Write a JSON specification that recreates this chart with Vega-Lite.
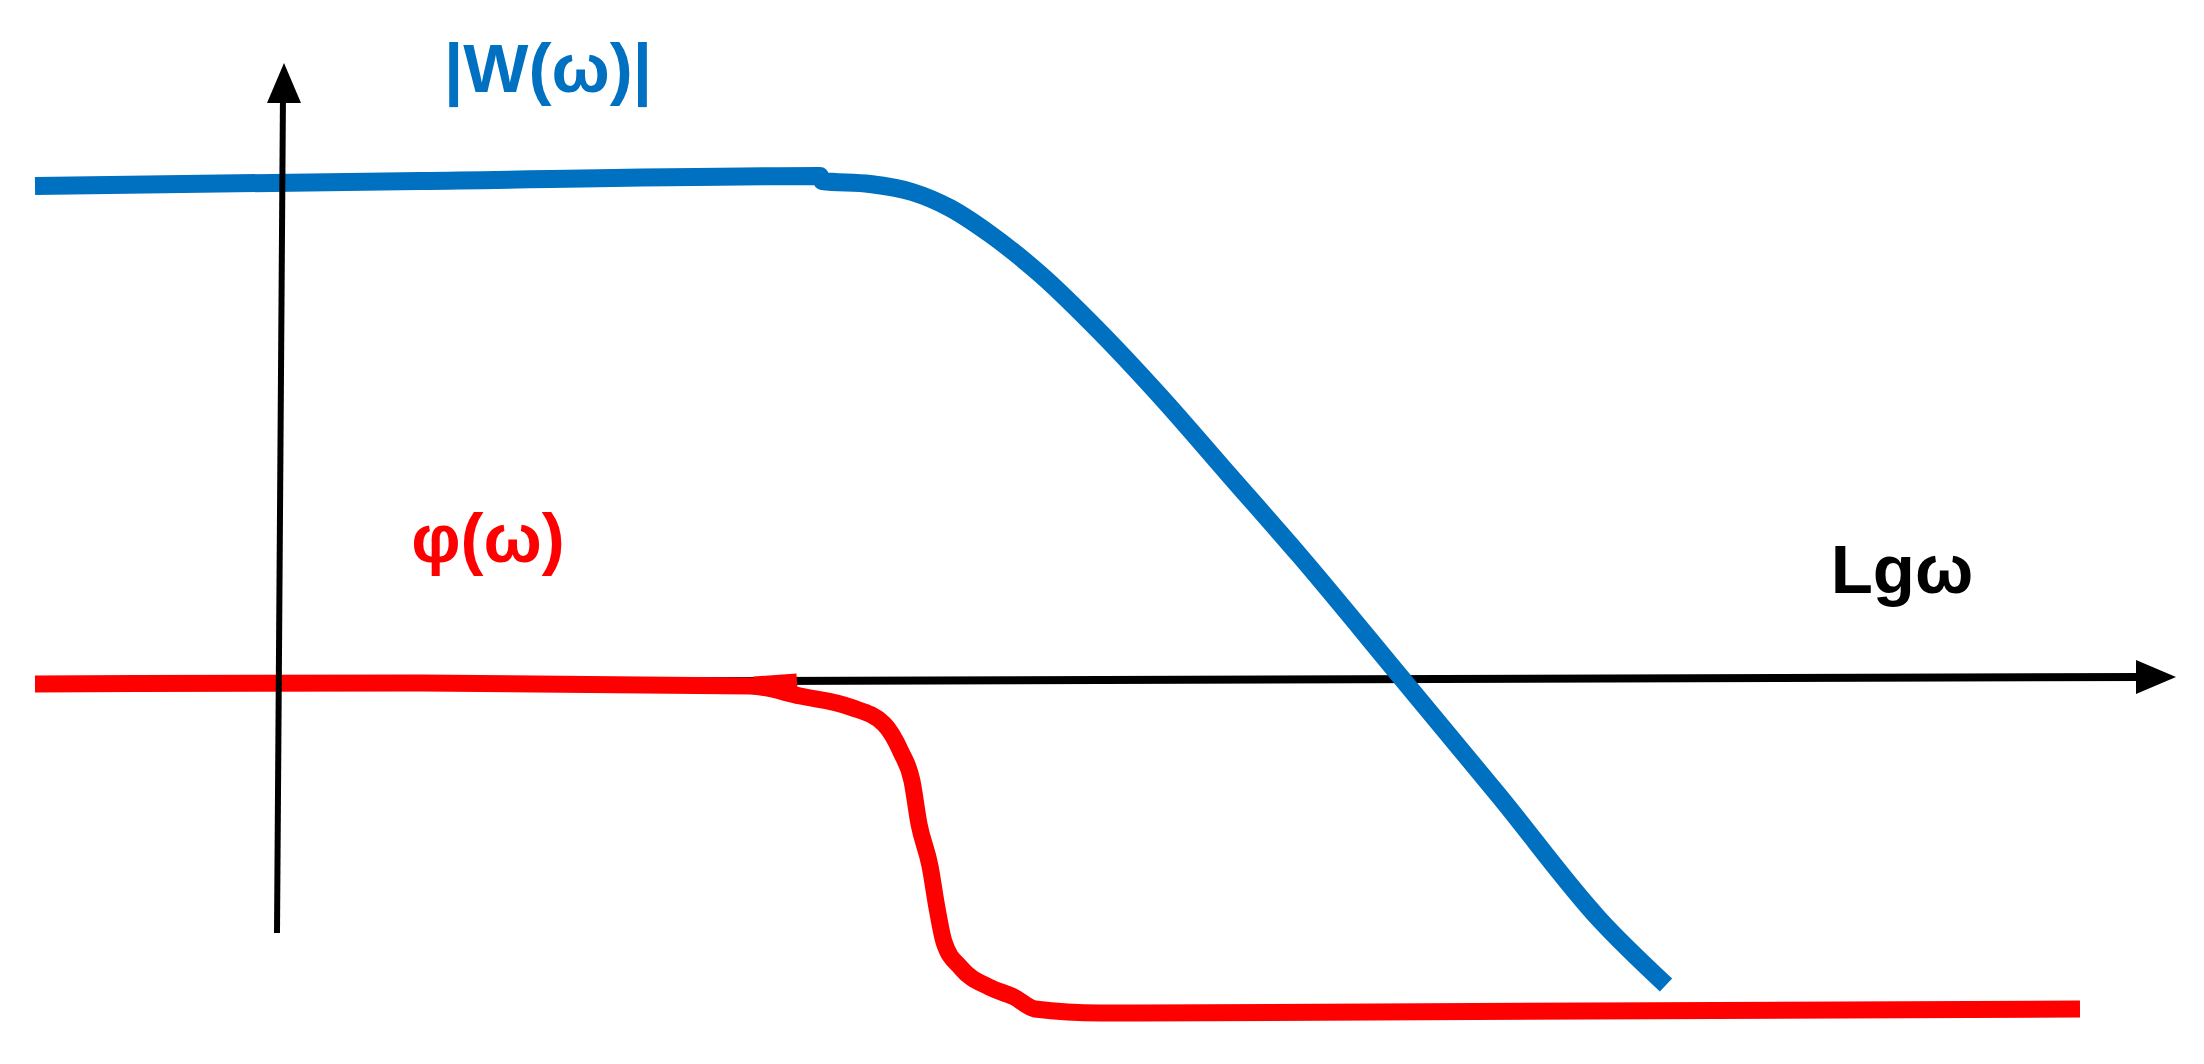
{
  "$schema": "https://vega.github.io/schema/vega-lite/v6.json",
  "width": 2204,
  "height": 1064,
  "autosize": {"type": "fit", "contains": "padding"},
  "padding": 0,
  "background": "white",
  "config": {"view": {"stroke": null}},
  "datasets": {
    "axisH": [
      {"x": -2.47, "y": -0.01, "i": 0},
      {"x": 18.6, "y": 0.05, "i": 1}
    ],
    "axisV": [
      {"x": -0.05, "y": -2.51, "i": 0},
      {"x": 0.01, "y": 5.9, "i": 1}
    ],
    "arrows": [
      {"x": 18.74, "y": 0.05, "dir": "right"},
      {"x": 0.02, "y": 5.99, "dir": "up"}
    ],
    "amp": [
      {"x": -2.47, "y": 4.96, "i": 0},
      {"x": 1.38, "y": 5.01, "i": 1},
      {"x": 5.38, "y": 5.06, "i": 2},
      {"x": 5.4, "y": 5.01, "i": 3},
      {"x": 5.88, "y": 4.98, "i": 4},
      {"x": 6.3, "y": 4.9, "i": 5},
      {"x": 6.68, "y": 4.74, "i": 6},
      {"x": 7.08, "y": 4.48, "i": 7},
      {"x": 7.58, "y": 4.08, "i": 8},
      {"x": 8.18, "y": 3.5, "i": 9},
      {"x": 8.78, "y": 2.86, "i": 10},
      {"x": 9.48, "y": 2.06, "i": 11},
      {"x": 10.18, "y": 1.26, "i": 12},
      {"x": 11.17, "y": 0.07, "i": 13},
      {"x": 12.18, "y": -1.15, "i": 14},
      {"x": 13.18, "y": -2.38, "i": 15},
      {"x": 13.84, "y": -3.03, "i": 16}
    ],
    "phase": [
      {"seg": "main", "x": -2.47, "y": -0.02, "i": 0},
      {"seg": "main", "x": 1.38, "y": -0.01, "i": 1},
      {"seg": "main", "x": 4.68, "y": -0.04, "i": 2},
      {"seg": "main", "x": 5.18, "y": -0.14, "i": 3},
      {"seg": "main", "x": 5.68, "y": -0.25, "i": 4},
      {"seg": "main", "x": 6.02, "y": -0.42, "i": 5},
      {"seg": "main", "x": 6.19, "y": -0.7, "i": 6},
      {"seg": "main", "x": 6.3, "y": -0.99, "i": 7},
      {"seg": "main", "x": 6.37, "y": -1.42, "i": 8},
      {"seg": "main", "x": 6.48, "y": -1.84, "i": 9},
      {"seg": "main", "x": 6.55, "y": -2.26, "i": 10},
      {"seg": "main", "x": 6.62, "y": -2.6, "i": 11},
      {"seg": "main", "x": 6.79, "y": -2.86, "i": 12},
      {"seg": "main", "x": 7.07, "y": -3.05, "i": 13},
      {"seg": "main", "x": 7.32, "y": -3.15, "i": 14},
      {"seg": "main", "x": 7.53, "y": -3.27, "i": 15},
      {"seg": "main", "x": 8.18, "y": -3.31, "i": 16},
      {"seg": "main", "x": 17.98, "y": -3.27, "i": 17},
      {"seg": "blob", "x": 4.72, "y": -0.03, "i": 0},
      {"seg": "blob", "x": 5.15, "y": 0.0, "i": 1}
    ],
    "labels": [
      {"x": 2.66, "y": 5.9, "label": "|W(ω)|", "series": "W"},
      {"x": 2.06, "y": 1.2, "label": "φ(ω)", "series": "phi"},
      {"x": 16.2, "y": 0.89, "label": "Lgω", "series": "axis"}
    ]
  },
  "encoding": {
    "x": {"field": "x", "type": "quantitative", "scale": {"domain": [-2.82, 19.22], "nice": false, "zero": false}, "axis": null},
    "y": {"field": "y", "type": "quantitative", "scale": {"domain": [-3.82, 6.82], "nice": false, "zero": false}, "axis": null}
  },
  "layer": [
    {
      "data": {"name": "axisH"},
      "mark": {"type": "line", "color": "#000000", "strokeWidth": 8, "strokeCap": "butt"},
      "encoding": {"order": {"field": "i", "type": "quantitative"}}
    },
    {
      "data": {"name": "arrows"},
      "transform": [{"filter": "datum.dir === 'right'"}],
      "mark": {"type": "point", "shape": "M-1,-0.85L1,0L-1,0.85Z", "filled": true, "color": "#000000", "opacity": 1, "size": 1600, "strokeWidth": 0}
    },
    {
      "data": {"name": "amp"},
      "mark": {"type": "line", "color": "#0070C0", "strokeWidth": 18, "strokeCap": "butt", "strokeJoin": "round", "interpolate": "monotone"},
      "encoding": {"order": {"field": "i", "type": "quantitative"}}
    },
    {
      "data": {"name": "phase"},
      "mark": {"type": "line", "color": "#FF0000", "strokeWidth": 17, "strokeCap": "butt", "strokeJoin": "round", "interpolate": "monotone"},
      "encoding": {
        "order": {"field": "i", "type": "quantitative"},
        "detail": {"field": "seg", "type": "nominal"}
      }
    },
    {
      "data": {"name": "axisV"},
      "mark": {"type": "line", "color": "#000000", "strokeWidth": 6, "strokeCap": "butt"},
      "encoding": {"order": {"field": "i", "type": "quantitative"}}
    },
    {
      "data": {"name": "arrows"},
      "transform": [{"filter": "datum.dir === 'up'"}],
      "mark": {"type": "point", "shape": "M0,-1L0.85,1L-0.85,1Z", "filled": true, "color": "#000000", "opacity": 1, "size": 1600, "strokeWidth": 0}
    },
    {
      "data": {"name": "labels"},
      "mark": {"type": "text", "font": "Liberation Sans", "fontWeight": "bold", "fontSize": 69, "align": "center", "baseline": "alphabetic"},
      "encoding": {
        "text": {"field": "label", "type": "nominal"},
        "color": {"field": "series", "type": "nominal", "scale": {"domain": ["W", "phi", "axis"], "range": ["#0070C0", "#FF0000", "#000000"]}, "legend": null}
      }
    }
  ]
}
